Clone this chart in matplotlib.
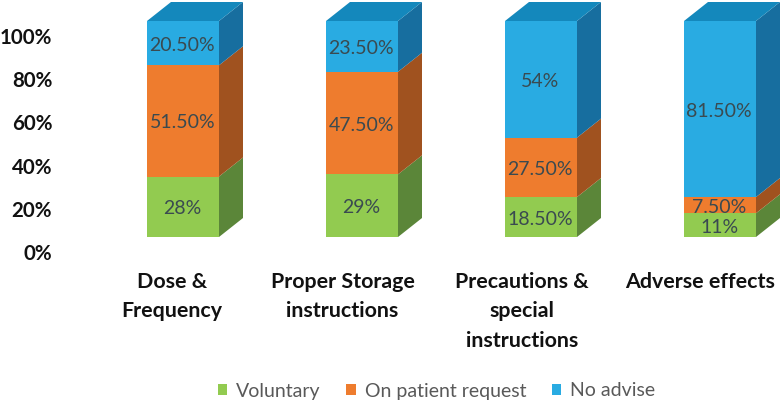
import matplotlib
matplotlib.use("Agg")
import matplotlib.pyplot as plt
from matplotlib.transforms import ScaledTranslation
from matplotlib.patches import Patch

categories = ["Dose &\nFrequency", "Proper Storage\ninstructions",
              "Precautions &\nspecial\ninstructions", "Adverse effects"]
voluntary = [28, 29, 18.5, 11]
on_request = [51.5, 47.5, 27.5, 7.5]
no_advise = [20.5, 23.5, 54, 81.5]
voluntary_labels = ["28%", "29%", "18.50%", "11%"]
on_request_labels = ["51.50%", "47.50%", "27.50%", "7.50%"]
no_advise_labels = ["20.50%", "23.50%", "54%", "81.50%"]
y_ticks = [0, 20, 40, 60, 80, 100]
y_tick_labels = ["0%", "20%", "40%", "60%", "80%", "100%"]

W, H = 781, 404
FONT = "Lato"
plt.rcParams["font.family"] = [FONT, "DejaVu Sans"]
fig = plt.figure(figsize=(W / 100, H / 100), dpi=100)

# axes: x unit = 179 px, first bar centred at px 183; y: 0 -> px 237, 100 -> px 21
ax_l, ax_r, ax_b, ax_t = 55, 781, 237, 2
ax = fig.add_axes([ax_l / W, 1 - ax_b / H, (ax_r - ax_l) / W, (ax_b - ax_t) / H])
PX_X, PX_Y = 179.0, 2.16
ax.set_xlim((ax_l - 183) / PX_X, (ax_r - 183) / PX_X)
ax.set_ylim(0, (ax_b - ax_t) / PX_Y)
for s in ax.spines.values():
    s.set_visible(False)
ax.patch.set_visible(False)

bar_w = 72 / PX_X
dx, dy = 24 / PX_X, 19 / PX_Y
x = list(range(len(categories)))
series = [
    (voluntary, voluntary_labels, "#92CB50", "#5B8639", "Voluntary"),
    (on_request, on_request_labels, "#EE7C2E", "#A0521F", "On patient request"),
    (no_advise, no_advise_labels, "#29ABE2", "#176E9F", "No advise"),
]
TOP = "#1488BC"
bottoms = [0.0] * len(x)
for vals, labels, front, side, name in series:
    for i, v in enumerate(vals):
        b = bottoms[i]
        xr = x[i] + bar_w / 2
        ax.fill([xr, xr + dx, xr + dx, xr], [b, b + dy, b + v + dy, b + v],
                color=side, lw=0, zorder=2, clip_on=False)
        ax.bar(x[i], v, bar_w, bottom=b, color=front, lw=0, zorder=3)
        ax.annotate(labels[i], (x[i], b + v / 2), xytext=(-0.5, -1.5),
                    textcoords="offset points", ha="center", va="center",
                    fontsize=14, color="#3A4A50", zorder=4)
    bottoms = [b + v for b, v in zip(bottoms, vals)]
for i, t in enumerate(bottoms):
    xl, xr = x[i] - bar_w / 2, x[i] + bar_w / 2
    ax.fill([xl, xr, xr + dx, xl + dx], [t, t, t + dy, t + dy],
            color=TOP, lw=0, zorder=2, clip_on=False)

# y tick labels sit 14 px below the matching height on the bars
ax.set_yticks(y_ticks)
ax.set_yticklabels(y_tick_labels, fontsize=14.8, fontweight="bold", color="#111111")
ax.tick_params(axis="y", length=0, pad=2)
for lab in ax.get_yticklabels():
    lab.set_transform(lab.get_transform() + ScaledTranslation(0, -15 / 100, fig.dpi_scale_trans))

ax.set_xticks(x)
ax.set_xticklabels(categories, fontsize=15.4, fontweight="bold", color="#111111",
                   linespacing=1.6, va="top")
ax.tick_params(axis="x", length=0, pad=25)
label_shift = [-11, -19.5, -19, -19.5]
for lab, sh in zip(ax.get_xticklabels(), label_shift):
    lab.set_transform(lab.get_transform() + ScaledTranslation(sh / 100, 0, fig.dpi_scale_trans))

handles = [Patch(color=s[2], lw=0) for s in series]
fig.legend(handles, [s[4] for s in series], ncol=3, frameon=False,
           loc="center", bbox_to_anchor=(436.5 / W, 1 - 391 / H), fontsize=14,
           labelcolor="#595959", handlelength=0.5, handleheight=0.5,
           handletextpad=0.46, columnspacing=1.3, borderpad=0, borderaxespad=0)

fig.savefig("out.png", dpi=100)
